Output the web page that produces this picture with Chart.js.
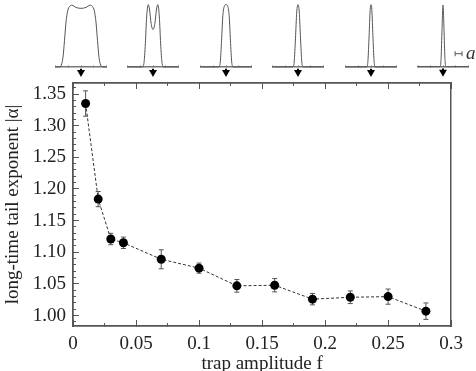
<!DOCTYPE html>
<html>
<head>
<meta charset="utf-8">
<script src="https://cdn.jsdelivr.net/npm/chart.js@4/dist/chart.umd.min.js"></script>
<style>
  html, body { margin: 0; padding: 0; background: #fff; overflow: hidden; }
  #wrap { position: relative; width: 476px; height: 371px; }
  #main { position: absolute; left: 0; top: 0; }
  .inset { position: absolute; top: 0; }
  #scaleLabel { position: absolute; left: 466px; top: 43px; font: italic 19px "Liberation Serif", serif; line-height: 19px; color: #333; }
</style>
</head>
<body>
<div id="wrap">
  <canvas id="main" width="476" height="371"></canvas>
  <span id="scaleLabel">a</span>
</div>
<script>
// main data: trap amplitude f vs tail exponent |alpha|
const trapAmplitude = [0.01, 0.02, 0.03, 0.04, 0.07, 0.10, 0.13, 0.16, 0.19, 0.22, 0.25, 0.28];
const tailExponent  = [1.335, 1.184, 1.121, 1.115, 1.089, 1.075, 1.047, 1.048, 1.026, 1.029, 1.030, 1.007];
const tailError     = [0.020, 0.012, 0.009, 0.009, 0.015, 0.008, 0.010, 0.0105, 0.009, 0.010, 0.012, 0.013];

// inset density profiles (x in lattice units, y normalised height)
const profile1X = [-2, -1.7, -1.55, -1.42, -1.3, -1.18, -1.05, -0.9, -0.7, -0.4, 0, 0.4, 0.7, 0.9, 1.05, 1.18, 1.3, 1.42, 1.55, 1.7, 2];
const profile1Y = [0, 0, 0.03, 0.15, 0.42, 0.72, 0.9, 0.97, 0.99, 0.955, 0.94, 0.955, 0.99, 0.97, 0.9, 0.72, 0.42, 0.15, 0.03, 0, 0];
const profile2X = [-2, -0.85, -0.72, -0.6, -0.5, -0.38, -0.28, -0.15, 0, 0.15, 0.28, 0.38, 0.5, 0.6, 0.72, 0.85, 2];
const profile2Y = [0, 0, 0.05, 0.38, 0.8, 1.0, 0.93, 0.7, 0.6, 0.7, 0.93, 1.0, 0.8, 0.38, 0.05, 0, 0];
const profile3X = [-2, -0.55, -0.45, -0.35, -0.25, -0.12, 0, 0.12, 0.25, 0.35, 0.45, 0.55, 2];
const profile3Y = [0, 0, 0.08, 0.42, 0.82, 0.98, 1, 0.98, 0.82, 0.42, 0.08, 0, 0];
const profile4X = [-2, -0.4, -0.3, -0.2, -0.1, 0, 0.1, 0.2, 0.3, 0.4, 2];
const profile4Y = [0, 0, 0.08, 0.45, 0.88, 1, 0.88, 0.45, 0.08, 0, 0];
const profile5X = [-2, -0.32, -0.24, -0.15, -0.07, 0, 0.07, 0.15, 0.24, 0.32, 2];
const profile5Y = [0, 0, 0.1, 0.5, 0.9, 1, 0.9, 0.5, 0.1, 0, 0];
const profile6X = [-2, -0.22, -0.15, -0.08, 0, 0.08, 0.15, 0.22, 2];
const profile6Y = [0, 0, 0.15, 0.6, 1, 0.6, 0.15, 0, 0];

// scale bar "a" (one lattice spacing) in the last inset
const scaleBarX = [0.97, 1.52];
const scaleBarY = 0.21;

// axes
const xMin = 0, xMax = 0.3;
const yMin = 0.9836, yMax = 1.3674;

// layout of the insets (pixel centres above the plot)
const insetCentres = [81, 153, 226, 298, 371, 443];

const serif = '"Liberation Serif", "Times New Roman", serif';
const frameColor = '#555';
const textColor = '#222';

Chart.defaults.font.family = serif;
Chart.defaults.font.size = 19;
Chart.defaults.color = textColor;

function fixedSize(size) {
    return function (scale) {
        if (scale.isHorizontal()) scale.height = size;
        else scale.width = size;
    };
}

// helper for tick-only axes (inward tick marks, no labels)
function tickAxis(position, min, max, step, len) {
    return {
        type: 'linear',
        position: position,
        min: min,
        max: max,
        weight: -1,
        afterFit: fixedSize(0),
        grid: { display: true, drawOnChartArea: false, drawTicks: true, tickLength: -len, tickColor: frameColor, tickWidth: 1 },
        border: { display: true, color: frameColor, width: 1.5 },
        ticks: { display: false, stepSize: step, includeBounds: false }
    };
}

function pts(xs, ys) {
    return xs.map((x, i) => ({ x: x, y: ys[i] }));
}

// error bars as segments separated by gaps
const errorBarData = [];
trapAmplitude.forEach((f, i) => {
    errorBarData.push({ x: f, y: tailExponent[i] - tailError[i] });
    errorBarData.push({ x: f, y: tailExponent[i] + tailError[i] });
    errorBarData.push({ x: f, y: null });
});

new Chart(document.getElementById('main'), {
    type: 'scatter',
    data: {
        datasets: [
            {
                data: pts(trapAmplitude, tailExponent),
                showLine: true,
                borderColor: '#333',
                borderWidth: 1,
                borderDash: [3, 2],
                pointRadius: 4.5,
                pointBackgroundColor: '#000',
                pointBorderColor: '#000',
                pointBorderWidth: 0
            },
            {
                data: errorBarData,
                showLine: true,
                spanGaps: false,
                borderColor: '#555',
                borderWidth: 1,
                pointStyle: 'line',
                pointRadius: 2.5,
                pointBorderColor: '#555',
                pointBorderWidth: 1
            }
        ]
    },
    options: {
        responsive: false,
        animation: false,
        layout: { padding: { top: 83, right: 16, left: 0, bottom: 0 } },
        plugins: { legend: { display: false }, tooltip: { enabled: false } },
        scales: {
            x: {
                type: 'linear',
                position: 'bottom',
                min: xMin,
                max: xMax,
                afterFit: fixedSize(45),
                grid: { display: true, drawOnChartArea: false, drawTicks: true, tickLength: -6, tickColor: frameColor, tickWidth: 1 },
                border: { display: true, color: frameColor, width: 1.5 },
                ticks: {
                    stepSize: 0.05,
                    includeBounds: false,
                    padding: 13,
                    maxRotation: 0,
                    autoSkip: false,
                    callback: v => String(Math.round(v * 1000) / 1000)
                },
                title: { display: true, text: 'trap amplitude f', padding: { top: 0, bottom: -4 } }
            },
            y: {
                type: 'linear',
                position: 'left',
                min: yMin,
                max: yMax,
                afterFit: fixedSize(73),
                grid: { display: true, drawOnChartArea: false, drawTicks: true, tickLength: -6, tickColor: frameColor, tickWidth: 1 },
                border: { display: true, color: frameColor, width: 1.5 },
                ticks: {
                    stepSize: 0.05,
                    includeBounds: false,
                    padding: 13,
                    autoSkip: false,
                    callback: v => v.toFixed(2)
                },
                title: { display: true, text: 'long-time tail exponent |α|', padding: { top: 2, bottom: 0 } }
            },
            xMinor: tickAxis('bottom', xMin, xMax, 0.025, 3),
            xTop: tickAxis('top', xMin, xMax, 0.05, 6),
            xTopMinor: tickAxis('top', xMin, xMax, 0.025, 3),
            yMinor: tickAxis('left', yMin, yMax, 0.01, 3),
            yRight: {
                type: 'linear',
                position: 'right',
                min: yMin,
                max: yMax,
                afterFit: fixedSize(0),
                grid: { display: false },
                border: { display: true, color: frameColor, width: 1.5 },
                ticks: { display: false }
            }
        }
    }
});

// insets above the plot
const profiles = [
    [profile1X, profile1Y],
    [profile2X, profile2Y],
    [profile3X, profile3Y],
    [profile4X, profile4Y],
    [profile5X, profile5Y],
    [profile6X, profile6Y]
];

const wrap = document.getElementById('wrap');
profiles.forEach((p, k) => {
    const canvas = document.createElement('canvas');
    canvas.className = 'inset';
    canvas.width = 60;
    canvas.height = 84;
    canvas.style.left = (insetCentres[k] - 30) + 'px';
    wrap.insertBefore(canvas, document.getElementById('scaleLabel'));

    const datasets = [
        {
            data: pts(p[0], p[1]),
            showLine: true,
            borderColor: '#555',
            borderWidth: 1,
            cubicInterpolationMode: 'monotone',
            pointRadius: 0,
            clip: false
        },
        {
            // arrow shaft
            data: [{ x: 0, y: -0.03 }, { x: 0, y: -0.08 }],
            showLine: true,
            borderColor: '#000',
            borderWidth: 2,
            pointRadius: 0,
            clip: false
        },
        {
            // arrow head
            data: [{ x: 0, y: -0.088 }],
            pointStyle: 'triangle',
            rotation: 180,
            pointRadius: 4.6,
            pointBackgroundColor: '#000',
            pointBorderColor: '#000',
            pointBorderWidth: 0,
            clip: false
        }
    ];
    if (k === profiles.length - 1) {
        datasets.push({
            data: scaleBarX.map(x => ({ x: x, y: scaleBarY })),
            showLine: true,
            borderColor: '#555',
            borderWidth: 1,
            pointStyle: 'line',
            rotation: 90,
            pointRadius: 2.5,
            pointBorderColor: '#555',
            pointBorderWidth: 1,
            clip: false
        });
    }

    new Chart(canvas, {
        type: 'scatter',
        data: { datasets: datasets },
        options: {
            responsive: false,
            animation: false,
            layout: { padding: { top: 2, bottom: 2.8, left: 1, right: 1 } },
            plugins: { legend: { display: false }, tooltip: { enabled: false } },
            scales: {
                x: {
                    type: 'linear',
                    min: -2,
                    max: 2,
                    position: { y: 0 },
                    grid: { display: true, drawOnChartArea: false, drawTicks: true, tickLength: -2, tickColor: '#777', tickWidth: 1 },
                    border: { display: true, color: '#777', width: 1.5 },
                    ticks: { display: false, stepSize: 1 }
                },
                y: {
                    type: 'linear',
                    min: -0.2,
                    max: 1,
                    display: false
                }
            }
        }
    });
});
</script>
</body>
</html>
